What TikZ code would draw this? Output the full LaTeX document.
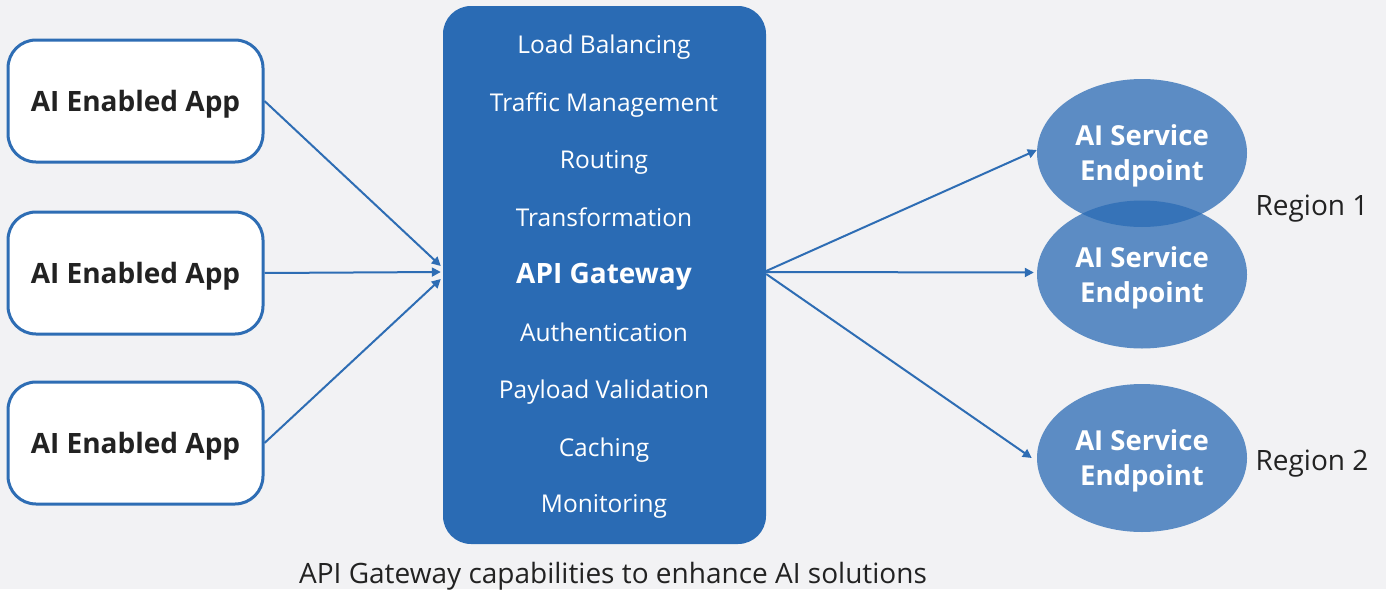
\documentclass[tikz,border=0pt]{standalone}
\usepackage{fontspec}
\setmainfont{Open Sans}
\usetikzlibrary{arrows.meta,shapes.geometric,calc}
\definecolor{bg}{HTML}{F2F2F4}
\definecolor{gwblue}{HTML}{2A6BB4}
\definecolor{edge}{HTML}{2E6DB4}
\definecolor{ink}{HTML}{222222}
\tikzset{
  appbox/.style={draw=edge, line width=3pt, fill=white, rounded corners=28pt, text depth=0pt,
    minimum width=255pt, minimum height=122pt, font=\fontsize{28}{33}\selectfont\bfseries, text=ink},
  gwbox/.style={fill=gwblue, rounded corners=28pt, minimum width=323pt, minimum height=538pt},
  gwtext/.style={text=white, text depth=0pt, font=\fontsize{24.5}{29}\selectfont},
  svc/.style={ellipse, fill=gwblue, fill opacity=0.75, text opacity=1, minimum width=210pt, minimum height=148pt,
    text=white, text depth=0pt, font=\fontsize{27.5}{35}\selectfont\bfseries, align=center, inner sep=0pt},
  conn/.style={draw=edge, line width=2pt, -{Triangle[length=9pt,width=9pt]}},
  lbl/.style={text=ink, text depth=0pt, font=\fontsize{28}{33}\selectfont}
}
\begin{document}
\begin{tikzpicture}[x=1pt,y=-1pt]
\fill[bg] (0,0) rectangle (1386,589);
\useasboundingbox (0,0) rectangle (1386,589);
\node[appbox] (a1) at (135.5,101) {AI Enabled App};
\node[appbox] (a2) at (135.5,273) {AI Enabled App};
\node[appbox] (a3) at (135.5,443) {AI Enabled App};
\node[gwbox] (gw) at (604.5,275) {};
\node[gwtext] (c1) at (604,44) {Load Balancing};
\node[gwtext] (c2) at (604,102) {Traffic Management};
\node[gwtext] (c3) at (604,160) {Routing};
\node[gwtext] (c4) at (604,217) {Transformation};
\node[gwtext, font=\fontsize{28}{33}\selectfont\bfseries] (c5) at (604,273) {API Gateway};
\node[gwtext] (c6) at (604,332) {Authentication};
\node[gwtext] (c7) at (604,389) {Payload Validation};
\node[gwtext] (c8) at (604,447) {Caching};
\node[gwtext] (c9) at (604,504) {Monitoring};
\node[svc] (e1) at (1142,153) {AI Service\\Endpoint};
\node[svc] (e2) at (1142,274.5) {AI Service\\Endpoint};
\node[svc] (e3) at (1142,458) {AI Service\\Endpoint};
\node[lbl] (r1) at (1312,205) {Region 1};
\node[lbl] (r2) at (1312,460) {Region 2};
\node[lbl] (capt) at (613,573) {API Gateway capabilities to enhance AI solutions};
\coordinate (in1) at ($(gw.west)+(-2,-9)$);
\coordinate (in2) at ($(gw.west)+(-2,-3)$);
\coordinate (in3) at ($(gw.west)+(-2,4)$);
\coordinate (out1) at ($(gw.east)+(0,-4)$);
\coordinate (out2) at ($(gw.east)+(0,-3)$);
\coordinate (out3) at ($(gw.east)+(0,-1)$);
\draw[conn] (a1.east) -- (in1);
\draw[conn] (a2.east) -- (in2);
\draw[conn] (a3.east) -- (in3);
\draw[conn] (out1) -- ($(e1.west)+(0,-3)$);
\draw[conn] (out2) -- ($(e2.west)+(-3,-2)$);
\draw[conn] (out3) -- ($(e3.west)+(-5,0)$);
\end{tikzpicture}
\end{document}
